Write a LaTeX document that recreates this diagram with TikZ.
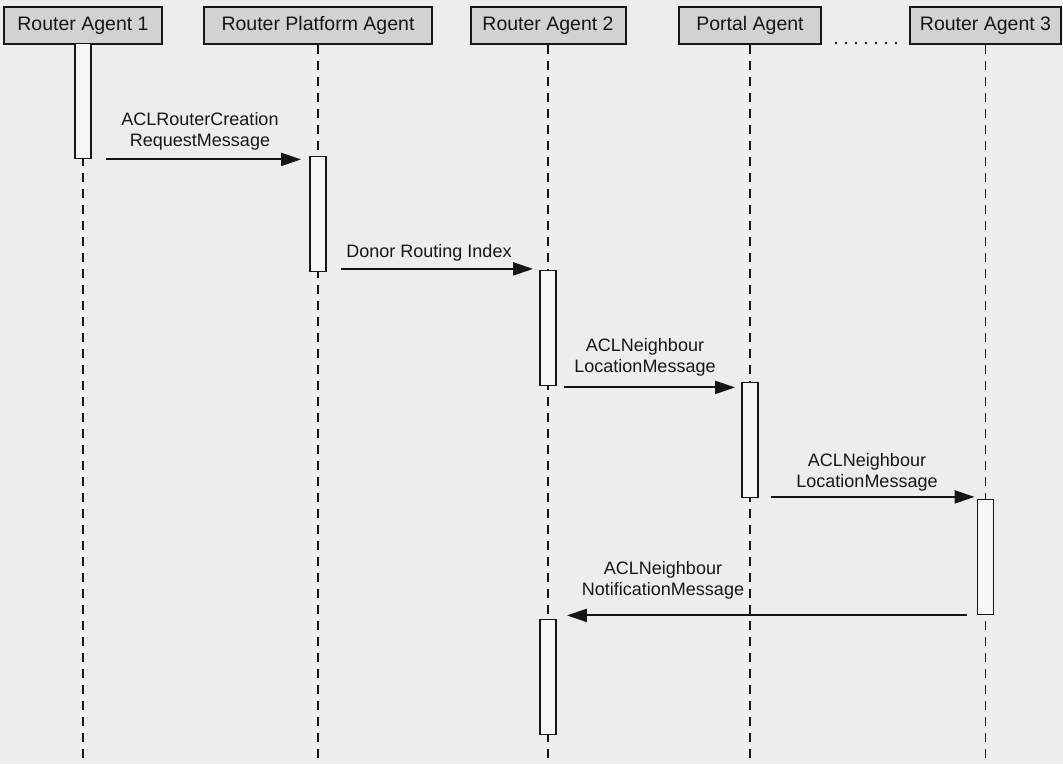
\documentclass[tikz,border=0pt]{standalone}
\usepackage{fontspec}
\setmainfont{Liberation Sans}
\usetikzlibrary{arrows.meta,calc}
\definecolor{paper}{RGB}{237,237,237}
\definecolor{headfill}{RGB}{210,210,210}
\definecolor{ink}{RGB}{22,22,22}
\definecolor{barfill}{RGB}{246,246,246}

\begin{document}
\begin{tikzpicture}[x=1pt,y=-1pt,
  agent/.style={draw=ink, line width=2pt, fill=headfill, minimum height=37pt,
    inner sep=0pt, font=\fontsize{19.5}{22}\selectfont, text=ink},
  lifeline/.style={draw=ink, line width=1.8pt, dash pattern=on 9pt off 7pt},
  bar/.style={draw=ink, line width=1.8pt, fill=barfill, minimum width=16pt,
    minimum height=115pt, inner sep=0pt},
  msg/.style={draw=ink, line width=2.1pt, -{Triangle[length=20pt,width=13pt]}},
  msglabel/.style={font=\fontsize{18}{21}\selectfont, text=ink, align=center,
    inner sep=0pt, anchor=south}
]
\fill[paper] (0,0) rectangle (1063,764);
\useasboundingbox (0,0) rectangle (1063,764);
\coordinate (bot) at (0,764);

% agents
\node[agent, minimum width=158pt] (h1) at (83,25.5)    {Router Agent 1};
\node[agent, minimum width=228pt] (h2) at (318,25.5)   {Router Platform Agent};
\node[agent, minimum width=155pt] (h3) at (548,25.5)   {Router Agent 2};
\node[agent, minimum width=142pt] (h4) at (750,25.5)   {Portal Agent};
\node[agent, minimum width=151pt] (h5) at (985.5,25.5) {Router Agent 3};

% more agents between portal and router 3
\draw[draw=ink, line width=2.6pt, dash pattern=on 0pt off 10pt, line cap=round]
  ([xshift=14pt,yshift=2pt]h4.south east) -- ([xshift=-11pt,yshift=2pt]h5.south west);

% lifelines
\foreach \h in {h1,h2,h3,h4,h5}
  \draw[lifeline] (\h.south) -- (\h.south |- bot);

% activation bars
\node[bar] (a1) at (83,101)    {};
\node[bar] (a2) at (318,214)   {};
\node[bar] (a3) at (548,328)   {};
\node[bar] (a4) at (750,440)   {};
\node[bar] (a5) at (985.5,557) {};
\node[bar] (a6) at (548,677)   {};

% messages
\coordinate (m1) at ([xshift=14pt]a1.south east);
\draw[msg, shorten >=8pt] (m1) -- (m1 -| a2.west);
\coordinate (m2) at ([xshift=14pt,yshift=3.5pt]a2.south east);
\draw[msg, shorten >=6pt] (m2) -- (m2 -| a3.west);
\coordinate (m3) at ([xshift=7pt,yshift=-1pt]a3.south east);
\draw[msg, shorten >=6pt] (m3) -- (m3 -| a4.west);
\coordinate (m4) at ([xshift=12pt,yshift=1.5pt]a4.south east);
\draw[msg, shorten >=2pt] (m4) -- (m4 -| a5.west);
\coordinate (m5) at ([xshift=-10pt]a5.south west);
\draw[msg, shorten >=10pt] (m5) -- (m5 -| a6.east);

% message labels
\node[msglabel] (l1) at (200,150) {ACLRouterCreation\\RequestMessage};
\node[msglabel] (l2) at (429,261) {Donor Routing Index};
\node[msglabel] (l3) at (645,376) {ACLNeighbour\\LocationMessage};
\node[msglabel] (l4) at (867,491) {ACLNeighbour\\LocationMessage};
\node[msglabel] (l5) at (663,599) {ACLNeighbour\\NotificationMessage};
\end{tikzpicture}
\end{document}
